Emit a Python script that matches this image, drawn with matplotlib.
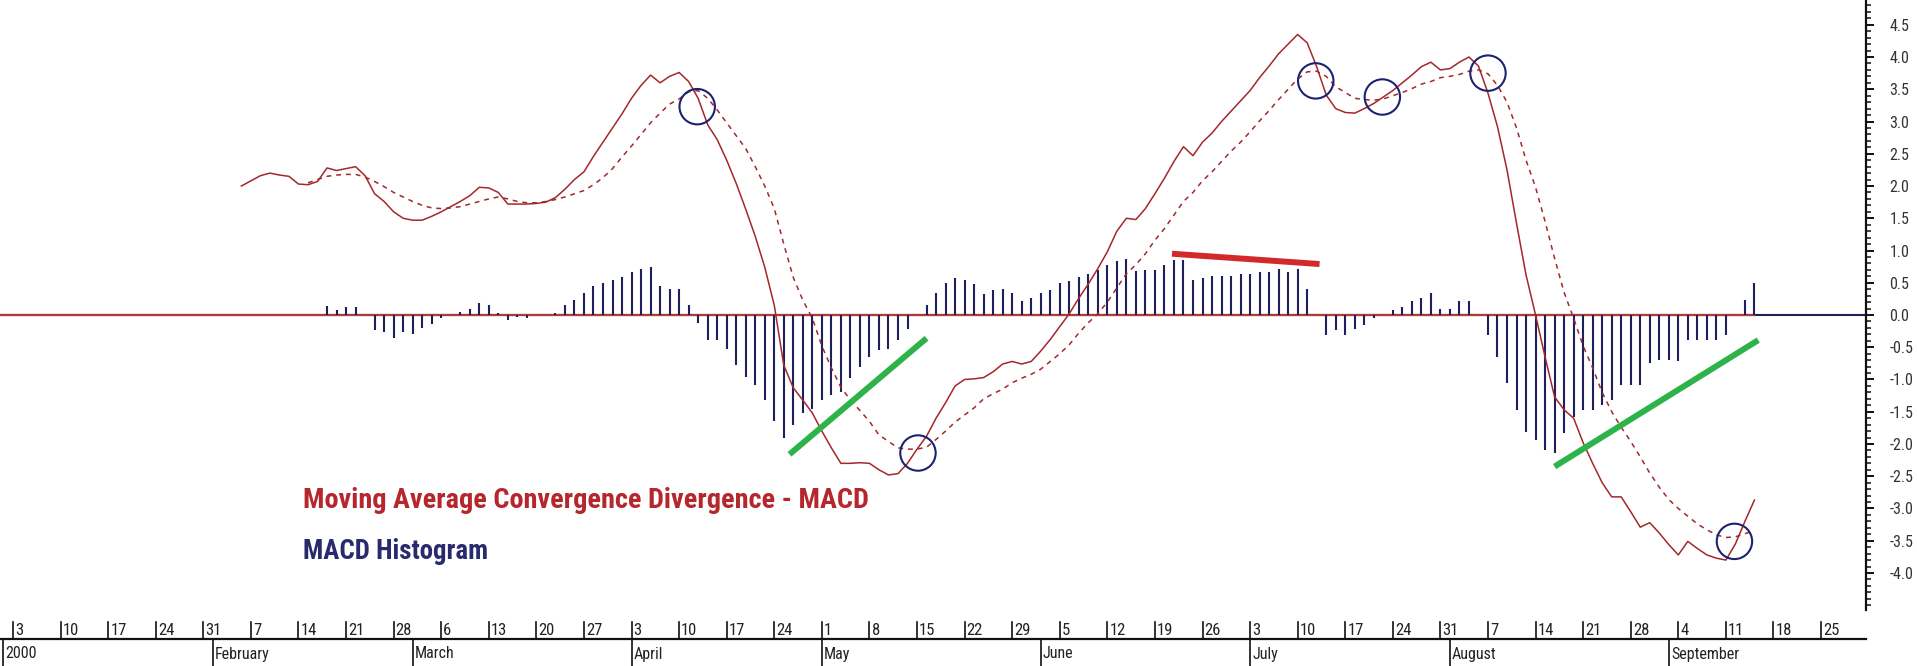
import numpy as np
import pandas as pd
import matplotlib
matplotlib.use('Agg')
import matplotlib.pyplot as plt
from matplotlib import font_manager

# ---------------- data ----------------
calendar_start = '1999-12-31'
calendar_end = '2000-09-29'

macd_start = '2000-02-04'
macd = [
    2.00, 2.08, 2.16, 2.20, 2.17, 2.15, 2.03, 2.02, 2.07, 2.28,
    2.24, 2.27, 2.30, 2.16, 1.88, 1.76, 1.60, 1.50, 1.47, 1.47,
    1.53, 1.60, 1.68, 1.76, 1.85, 1.98, 1.97, 1.90, 1.72, 1.72,
    1.72, 1.73, 1.75, 1.82, 1.95, 2.10, 2.22, 2.46, 2.68, 2.90,
    3.12, 3.36, 3.56, 3.72, 3.60, 3.70, 3.76, 3.62, 3.36, 2.95,
    2.72, 2.40, 2.04, 1.64, 1.22, 0.74, 0.15, -0.78, -1.13, -1.32,
    -1.52, -1.80, -2.06, -2.30, -2.30, -2.29, -2.30, -2.40, -2.48, -2.46,
    -2.30, -2.08, -1.88, -1.60, -1.36, -1.10, -1.00, -0.99, -0.97, -0.88,
    -0.76, -0.72, -0.76, -0.72, -0.56, -0.38, -0.18, 0.02, 0.26, 0.48,
    0.72, 0.98, 1.30, 1.50, 1.48, 1.65, 1.88, 2.12, 2.38, 2.61,
    2.47, 2.68, 2.82, 3.00, 3.16, 3.32, 3.48, 3.68, 3.86, 4.05,
    4.20, 4.35, 4.22, 3.85, 3.41, 3.20, 3.14, 3.13, 3.20, 3.28,
    3.38, 3.48, 3.60, 3.72, 3.85, 3.92, 3.80, 3.82, 3.92, 4.00,
    3.86, 3.44, 2.92, 2.25, 1.42, 0.62, 0.00, -0.65, -1.27, -1.47,
    -1.60, -1.98, -2.30, -2.60, -2.82, -2.82, -3.05, -3.29, -3.22, -3.38,
    -3.56, -3.72, -3.51, -3.62, -3.72, -3.77, -3.80, -3.55, -3.20, -2.87,
]

signal_start = '2000-02-15'
signal = [
    2.05, 2.10, 2.15, 2.17, 2.18, 2.18, 2.14, 2.07, 1.99, 1.90,
    1.83, 1.76, 1.70, 1.66, 1.65, 1.66, 1.68, 1.72, 1.76, 1.80,
    1.83, 1.80, 1.76, 1.74, 1.74, 1.76, 1.79, 1.83, 1.88, 1.93,
    2.02, 2.13, 2.27, 2.45, 2.62, 2.80, 2.98, 3.13, 3.27, 3.35,
    3.46, 3.48, 3.36, 3.18, 2.98, 2.78, 2.58, 2.30, 2.00, 1.65,
    1.10, 0.58, 0.23, -0.05, -0.48, -0.82, -1.12, -1.32, -1.48, -1.65,
    -1.86, -1.96, -2.06, -2.08, -2.08, -2.05, -1.93, -1.80, -1.66, -1.55,
    -1.44, -1.30, -1.22, -1.15, -1.05, -0.98, -0.92, -0.84, -0.72, -0.60,
    -0.46, -0.28, -0.12, 0.02, 0.20, 0.42, 0.64, 0.78, 0.95, 1.16,
    1.34, 1.55, 1.76, 1.90, 2.08, 2.22, 2.38, 2.54, 2.68, 2.84,
    3.01, 3.17, 3.34, 3.50, 3.66, 3.77, 3.78, 3.70, 3.54, 3.45,
    3.36, 3.34, 3.33, 3.35, 3.40, 3.45, 3.51, 3.58, 3.62, 3.68,
    3.70, 3.73, 3.78, 3.80, 3.74, 3.56, 3.30, 2.90, 2.40, 1.98,
    1.45, 0.88, 0.35, -0.05, -0.48, -0.82, -1.20, -1.50, -1.74, -1.96,
    -2.20, -2.45, -2.67, -2.86, -3.00, -3.12, -3.24, -3.33, -3.41, -3.45,
    -3.44, -3.39, -3.35,
]

hist_start = '2000-02-17'
hist = [
    0.14, 0.07, 0.12, 0.12, 0.00, -0.24, -0.26, -0.36, -0.26, -0.30,
    -0.20, -0.14, -0.05, 0.00, 0.04, 0.10, 0.19, 0.16, 0.03, -0.07,
    -0.03, -0.05, 0.00, 0.00, 0.03, 0.16, 0.23, 0.34, 0.45, 0.49,
    0.55, 0.59, 0.67, 0.71, 0.74, 0.45, 0.41, 0.41, 0.16, -0.13,
    -0.39, -0.39, -0.52, -0.78, -0.96, -1.09, -1.32, -1.65, -1.91, -1.71,
    -1.52, -1.45, -1.32, -1.24, -1.19, -0.98, -0.80, -0.65, -0.54, -0.52,
    -0.39, -0.21, 0.00, 0.16, 0.34, 0.49, 0.58, 0.55, 0.48, 0.33,
    0.38, 0.41, 0.34, 0.21, 0.26, 0.34, 0.39, 0.49, 0.53, 0.59,
    0.63, 0.70, 0.78, 0.84, 0.87, 0.68, 0.70, 0.70, 0.78, 0.85,
    0.85, 0.55, 0.57, 0.60, 0.60, 0.60, 0.64, 0.64, 0.67, 0.67,
    0.71, 0.67, 0.71, 0.41, 0.00, -0.31, -0.23, -0.31, -0.21, -0.15,
    -0.05, 0.00, 0.08, 0.13, 0.21, 0.26, 0.34, 0.10, 0.10, 0.21,
    0.21, 0.00, -0.31, -0.65, -1.05, -1.48, -1.81, -1.94, -2.10, -2.14,
    -1.83, -1.58, -1.48, -1.48, -1.40, -1.32, -1.09, -1.09, -1.09, -0.75,
    -0.70, -0.70, -0.72, -0.39, -0.39, -0.39, -0.39, -0.31, 0.00, 0.23,
    0.49,
]

month_tick_dates = ['1999-12-31', '2000-02-01', '2000-03-01', '2000-04-03', '2000-05-01',
                    '2000-06-01', '2000-07-03', '2000-08-01', '2000-09-01']
month_labels = ['2000', 'February', 'March', 'April', 'May', 'June', 'July', 'August', 'September']

# annotation anchors (trading-day position from 2000-01-03, MACD value)
circle_x = [71.9, 95.1, 136.9, 143.9, 155.0, 180.9]
circle_y = [3.23, -2.14, 3.63, 3.38, 3.75, -3.51]
green1_x, green1_y = [81.6, 96.0], [-2.16, -0.36]
green2_x, green2_y = [162.0, 183.4], [-2.35, -0.39]
red_x, red_y = [121.8, 137.3], [0.95, 0.79]

macd_title = 'Moving Average Convergence Divergence - MACD'
hist_title = 'MACD Histogram'

# ---------------- helpers ----------------
def pick(*names):
    avail = {f.name for f in font_manager.fontManager.ttflist}
    for n in names:
        if n in avail:
            return n
    return 'DejaVu Sans'

narrow = pick('Liberation Sans Narrow', 'Roboto Condensed', 'Arial Narrow',
              'Liberation Sans', 'DejaVu Sans')

days = pd.bdate_range(calendar_start, calendar_end)

def pos_of(d):
    return days.get_loc(pd.Timestamp(d)) - 1  # 2000-01-03 -> 0

def series_x(start, n):
    s = pos_of(start)
    return np.arange(s, s + n)

W, H = 1917, 666
fig = plt.figure(figsize=(W / 100, H / 100), dpi=100)
fig.patch.set_facecolor('white')

px_per_day = 9.516
x_off = 13.0
axis_px = 1866
xlim = (-x_off / px_per_day, (axis_px - x_off) / px_per_day)

ax = fig.add_axes([0, 1 - 610 / H, axis_px / W, 610 / H])
ax.set_xlim(*xlim)
ax.set_ylim(-4.574, 4.884)
ax.set_facecolor('none')
for s in ['left', 'top', 'bottom']:
    ax.spines[s].set_visible(False)
ax.spines['right'].set_linewidth(1.6)
ax.spines['right'].set_color('#111111')
ax.set_xticks([])
ax.yaxis.set_ticks_position('right')
ax.set_yticks(np.arange(-4.0, 4.51, 0.5))
ax.set_yticks(np.arange(-4.5, 4.85, 0.1), minor=True)
ax.set_yticklabels(['%.1f' % v for v in np.arange(-4.0, 4.51, 0.5)])
ax.tick_params(axis='y', which='major', direction='out', length=6, width=1.4,
               pad=11, labelsize=11.5, labelcolor='#333333', color='#111111')
ax.tick_params(axis='y', which='minor', direction='out', length=3.5, width=1.1,
               color='#111111')
for lab in ax.get_yticklabels():
    lab.set_family(narrow)

navy = '#1e205e'
red = '#a3282c'

# zero line
ax.axhline(0, color=navy, lw=1.5, zorder=1)
hx = series_x(hist_start, len(hist))
ax.plot([xlim[0], hx[-1]], [0, 0], color='#b03a3e', lw=1.6, zorder=2)

# histogram
hv = np.array(hist)
m = hv != 0
ax.vlines(hx[m], 0, hv[m], color=navy, lw=1.5, zorder=3, capstyle='butt')

# MACD and signal
mx = series_x(macd_start, len(macd))
ax.plot(mx, macd, color=red, lw=1.1, zorder=4)
sx = series_x(signal_start, len(signal))
ax.plot(sx, signal, color=red, lw=1.1, linestyle=(0, (3.2, 3.2)), zorder=4)

# annotations
ax.scatter(circle_x, circle_y, s=650, facecolors='none', edgecolors='#1c2270',
           linewidths=1.5, zorder=6)
ax.plot(green1_x, green1_y, color='#2db34a', lw=4.3, solid_capstyle='butt', zorder=7)
ax.plot(green2_x, green2_y, color='#2db34a', lw=4.3, solid_capstyle='butt', zorder=7)
ax.plot(red_x, red_y, color='#d22a2a', lw=4.3, solid_capstyle='butt', zorder=7)

# titles
t1 = fig.text(303 / W, 1 - 508 / H, macd_title, color='#b5262d', fontweight='bold',
              family=narrow, fontsize=18, ha='left', va='baseline')
t2 = fig.text(303 / W, 1 - 559 / H, hist_title, color='#272a6c', fontweight='bold',
              family=narrow, fontsize=18, ha='left', va='baseline')
fig.canvas.draw()
r = fig.canvas.get_renderer()
for t, target in [(t1, 565), (t2, 185)]:
    w = t.get_window_extent(r).width
    t.set_fontsize(t.get_fontsize() * target / w)

# date axis
dax = fig.add_axes([0, 0, axis_px / W, 56 / H])
dax.set_xlim(*xlim)
dax.set_ylim(0, 56)
dax.axis('off')
line_y = 27
dax.plot(xlim, [line_y, line_y], color='#111111', lw=1.6, clip_on=False)
mondays = days[(days.dayofweek == 0)]
for d in mondays:
    p = pos_of(d)
    dax.plot([p, p], [line_y, 44], color='#111111', lw=1.2)
    dax.text(p + 0.22, 35.5, str(d.day), family=narrow, fontsize=12, color='#222222',
             ha='left', va='center')
for d, lab in zip(month_tick_dates, month_labels):
    p = pos_of(d)
    dax.plot([p, p], [0, line_y], color='#111111', lw=1.2)
    dax.text(p + 0.22, 12, lab, family=narrow, fontsize=11.5, color='#222222',
             ha='left', va='center')

fig.savefig('out.png', dpi=100, facecolor='white')
